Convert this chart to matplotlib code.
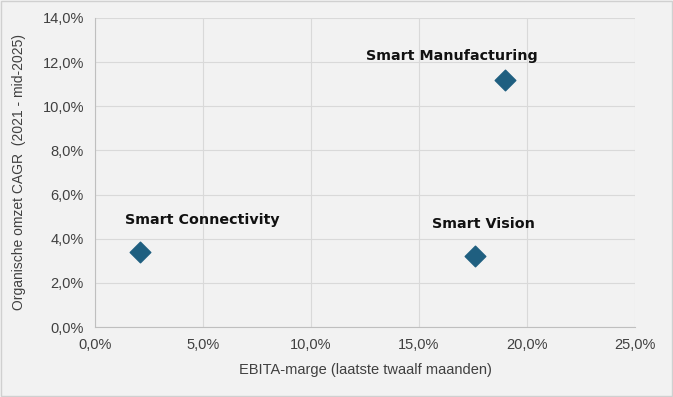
import matplotlib.pyplot as plt
from matplotlib.ticker import FuncFormatter, MultipleLocator

segments = ["Smart Connectivity", "Smart Vision", "Smart Manufacturing"]
ebita_margin = [2.1, 17.6, 19.0]
organic_cagr = [3.4, 3.2, 11.2]

bg = "#F2F2F2"
grid_col = "#D9D9D9"
text_col = "#404040"
dot_col = "#1F5F80"

fig = plt.figure(figsize=(6.73, 3.97), dpi=100, facecolor=bg)
fig.patches.append(plt.Rectangle((0.002, 0.003), 0.996, 0.994, transform=fig.transFigure,
                                 fill=False, edgecolor="#D0D0D0", linewidth=1))
ax = fig.add_axes([0.1412, 0.1763, 0.8023, 0.7784])
ax.set_facecolor(bg)

ax.scatter(ebita_margin, organic_cagr, marker="D", s=110, color=dot_col, zorder=3)

# labels placed like the excel data labels
offsets = {"Smart Connectivity": (-0.7, 1.45, "left"),
           "Smart Vision": (-2.0, 1.45, "left"),
           "Smart Manufacturing": (-2.5, 1.1, "center")}
for name, x, y in zip(segments, ebita_margin, organic_cagr):
    dx, dy, ha = offsets[name]
    ax.text(x + dx, y + dy, name, ha=ha, va="center", fontsize=10.3,
            fontweight="bold", color="#111111", family="DejaVu Sans")

ax.set_xlim(0, 25)
ax.set_ylim(0, 14)
ax.xaxis.set_major_locator(MultipleLocator(5))
ax.yaxis.set_major_locator(MultipleLocator(2))
fmt = FuncFormatter(lambda v, p: f"{v:.1f}%".replace(".", ","))
ax.xaxis.set_major_formatter(fmt)
ax.yaxis.set_major_formatter(fmt)

ax.grid(True, color=grid_col, linewidth=0.8)
ax.set_axisbelow(True)
for s in ["top", "right"]:
    ax.spines[s].set_visible(False)
for s in ["left", "bottom"]:
    ax.spines[s].set_color("#BFBFBF")
    ax.spines[s].set_linewidth(0.8)
ax.tick_params(length=0, colors=text_col, pad=8)
for lab in ax.get_xticklabels() + ax.get_yticklabels():
    lab.set_family("Liberation Sans")
    lab.set_fontsize(10.5)

ax.set_xlabel("EBITA-marge (laatste twaalf maanden)", fontsize=10.5, color=text_col,
              family="Liberation Sans", labelpad=8)
ax.set_ylabel("Organische omzet CAGR  (2021 - mid-2025)", fontsize=10, color=text_col,
              family="Liberation Sans", labelpad=12)

fig.savefig("out.png", dpi=100, facecolor=bg)
